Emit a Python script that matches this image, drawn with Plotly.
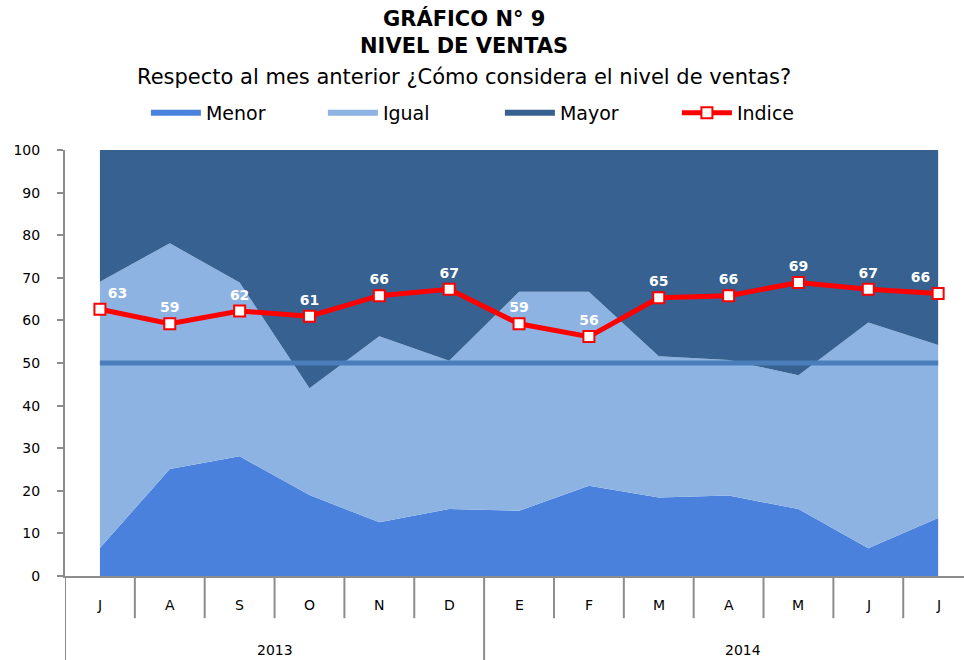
import plotly.graph_objects as go

months = ["J", "A", "S", "O", "N", "D", "E", "F", "M", "A", "M", "J", "J"]
years = ["2013", "2014"]
year_spans = [(0, 5), (6, 12)]

menor = [6.6, 25.1, 28.1, 19.0, 12.6, 15.7, 15.3, 21.2, 18.4, 18.9, 15.7, 6.5, 13.6]
igual = [62.5, 53.0, 40.8, 25.1, 43.7, 34.8, 51.4, 45.5, 33.2, 31.8, 31.4, 53.0, 40.6]
mayor = [round(100 - a - b, 1) for a, b in zip(menor, igual)]
indice = [62.6, 59.2, 62.2, 61.0, 65.8, 67.3, 59.2, 56.2, 65.3, 65.8, 68.9, 67.3, 66.3]
indice_labels = ["63", "59", "62", "61", "66", "67", "59", "56", "65", "66", "69", "67", "66"]
ref_level = 50

x = list(range(len(months)))
FONT = "DejaVu Sans, sans-serif"

label_pos = ["top center"] * len(x)
label_pos[0] = "top right"
label_pos[-1] = "top left"

fig = go.Figure()
fig.add_trace(go.Scatter(x=x, y=menor, name="Menor", stackgroup="one", mode="none",
                         fillcolor="#4A81DC"))
fig.add_trace(go.Scatter(x=x, y=igual, name="Igual", stackgroup="one", mode="none",
                         fillcolor="#8DB3E2"))
fig.add_trace(go.Scatter(x=x, y=mayor, name="Mayor", stackgroup="one", mode="none",
                         fillcolor="#366191"))
fig.add_trace(go.Scatter(x=x, y=[ref_level] * len(x), mode="lines", showlegend=False,
                         line=dict(color="#4A7EBB", width=5), hoverinfo="skip"))
fig.add_trace(go.Scatter(x=x, y=indice, name="Indice", mode="lines+markers+text",
                         line=dict(color="#FF0000", width=5),
                         marker=dict(symbol="square", size=11, color="white",
                                     line=dict(color="#FF0000", width=2)),
                         text=indice_labels, textposition=label_pos, cliponaxis=False,
                         textfont=dict(family=FONT, size=14, color="white", weight="bold")))

shapes = []
for i in range(len(months) - 1):
    b = i + 0.5
    if b == 5.5:
        continue
    shapes.append(dict(type="line", xref="x", yref="paper", x0=b, x1=b, y0=0, y1=-0.099,
                       line=dict(color="#8C8C8C", width=2)))
for b in [-0.5, 5.5]:
    shapes.append(dict(type="line", xref="x", yref="paper", x0=b, x1=b, y0=0, y1=-0.2,
                       line=dict(color="#8C8C8C", width=2)))

annotations = []
for i, m in enumerate(months):
    annotations.append(dict(x=i, y=-0.068, xref="x", yref="paper", text=m, showarrow=False,
                            yanchor="middle", font=dict(family=FONT, size=14, color="black")))
for yname, (a, b) in zip(years, year_spans):
    annotations.append(dict(x=(a + b) / 2 + (0.2 if yname == "2014" else 0), y=-0.174,
                            xref="x", yref="paper", text=yname, showarrow=False, yanchor="middle",
                            font=dict(family=FONT, size=14, color="black")))

cx = (464 - 65) / 899
annotations += [
    dict(x=cx, y=1.0 + (150 - 19) / 426, xref="paper", yref="paper", text="<b>GRÁFICO N° 9</b>",
         showarrow=False, yanchor="middle", font=dict(family=FONT, size=21, color="black")),
    dict(x=cx, y=1.0 + (150 - 46) / 426, xref="paper", yref="paper", text="<b>NIVEL DE VENTAS</b>",
         showarrow=False, yanchor="middle", font=dict(family=FONT, size=21, color="black")),
    dict(x=cx, y=1.0 + (150 - 77) / 426, xref="paper", yref="paper",
         text="Respecto al mes anterior ¿Cómo considera el nivel de ventas?",
         showarrow=False, yanchor="middle", font=dict(family=FONT, size=21, color="black")),
]

fig.update_layout(
    width=964, height=660,
    margin=dict(l=65, r=0, t=150, b=84, autoexpand=False),
    paper_bgcolor="white", plot_bgcolor="white",
    font=dict(family=FONT, color="black"),
    showlegend=True,
    legend=dict(orientation="h", x=0.09, y=1.0 + (150 - 113) / 426, xanchor="left",
                yanchor="middle", font=dict(family=FONT, size=19, color="black"),
                itemwidth=50, entrywidth=112, traceorder="normal", bgcolor="rgba(0,0,0,0)"),
    xaxis=dict(range=[-0.5, 12.37], showticklabels=False, ticks="", showgrid=False,
               zeroline=False, showline=True, linecolor="#8C8C8C", linewidth=2,
               fixedrange=True, automargin=False),
    yaxis=dict(range=[0, 100], dtick=10, ticks="outside", ticklen=6, tickcolor="#8C8C8C",
               tickwidth=2, ticklabelstandoff=14,
               showgrid=False, zeroline=False, showline=True, linecolor="#8C8C8C", linewidth=2,
               tickfont=dict(family=FONT, size=14, color="black"), automargin=False),
    shapes=shapes, annotations=annotations,
)
fig.write_html("out.html", config={"displayModeBar": False},
               post_script="document.body.style.margin='0';document.body.style.overflow='hidden';")
